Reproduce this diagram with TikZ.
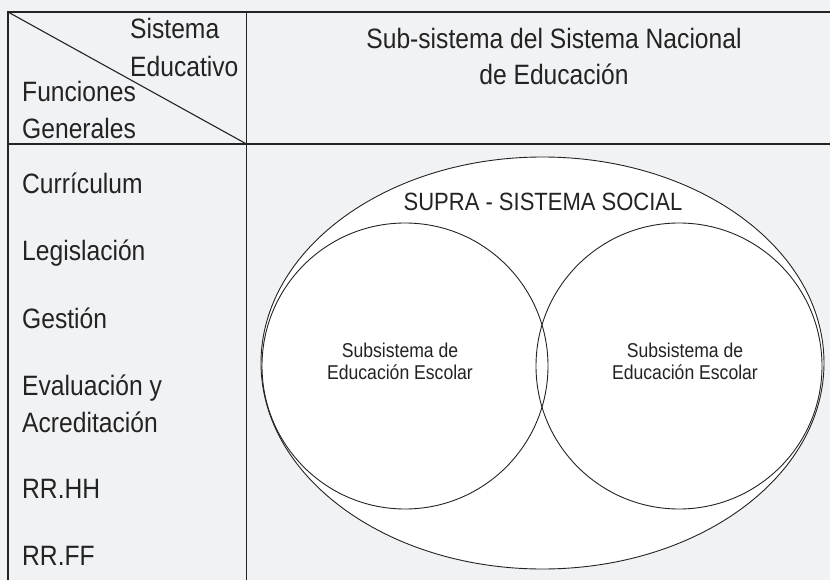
\documentclass[tikz,border=0pt]{standalone}
\usepackage{fontspec}
\setmainfont[FakeStretch=0.88]{Liberation Sans}
\definecolor{paper}{RGB}{241,242,244}
\definecolor{ink}{RGB}{35,35,35}
\begin{document}
\begin{tikzpicture}[x=1pt, y=-1pt,
		rule/.style = {draw=ink, line width=1.1pt},
		ring/.style = {draw=ink, line width=0.9pt},
		big/.style = {inner sep=0pt, text=ink, font=\fontsize{28}{34}\selectfont},
		mid/.style = {inner sep=0pt, text=ink, font=\fontsize{25}{30}\selectfont},
		small/.style = {inner sep=0pt, text=ink, font=\fontsize{20}{24}\selectfont}]
		\fill[paper] (0,0) rectangle (830,580);
		\useasboundingbox (0,0) rectangle (830,580);
		% table
		\coordinate (tl) at (8,12);
		\coordinate (tr) at (830,12);
		\coordinate (bl) at (8,580);
		\coordinate (hl) at (8,144);
		\coordinate (hr) at (830,144);
		\coordinate (dt) at (246.5,12);
		\coordinate (dh) at (246.5,144);
		\coordinate (db) at (246.5,580);
		\draw[rule] (tr) -- (tl) -- (bl);
		\draw[rule] (hl) -- (hr);
		\draw[rule] (dt) -- (db);
		\draw[rule] (tl) -- (dh);
		% header
		\node at (130,39) [big, anchor=base west] (sis) {Sistema};
		\node at (130,77) [big, anchor=base west] (edu) {Educativo};
		\node at (22,102) [big, anchor=base west] (fun) {Funciones};
		\node at (22,139) [big, anchor=base west] (gen) {Generales};
		\node at (554,49) [big, anchor=base] (sub1) {Sub-sistema del Sistema Nacional};
		\node at (554,85) [big, anchor=base] (sub2) {de Educación};
		% funciones
		\node at (22,194) [big, anchor=base west] (curr) {Currículum};
		\node at (22,261) [big, anchor=base west] (legis) {Legislación};
		\node at (22,328) [big, anchor=base west] (gest) {Gestión};
		\node at (22,395) [big, anchor=base west] (eval) {Evaluación y};
		\node at (22,432) [big, anchor=base west] (acred) {Acreditación};
		\node at (22,498) [big, anchor=base west] (rrhh) {RR.HH};
		\node at (22,565) [big, anchor=base west] (rrff) {RR.FF};
		% supra-sistema
		\filldraw[ring, fill=white] (542.5,363) ellipse [x radius=281.5, y radius=206];
		\draw[ring] (405,366) circle [radius=143];
		\draw[ring] (679,366) circle [radius=143];
		\node at (543,211) [mid, anchor=base] (supra) {SUPRA - SISTEMA SOCIAL};
		\node at (400,357) [small, anchor=base] (subA1) {Subsistema de};
		\node at (400,379) [small, anchor=base] (subA2) {Educación Escolar};
		\node at (685,357) [small, anchor=base] (subB1) {Subsistema de};
		\node at (685,379) [small, anchor=base] (subB2) {Educación Escolar};
	\end{tikzpicture}
\end{document}
